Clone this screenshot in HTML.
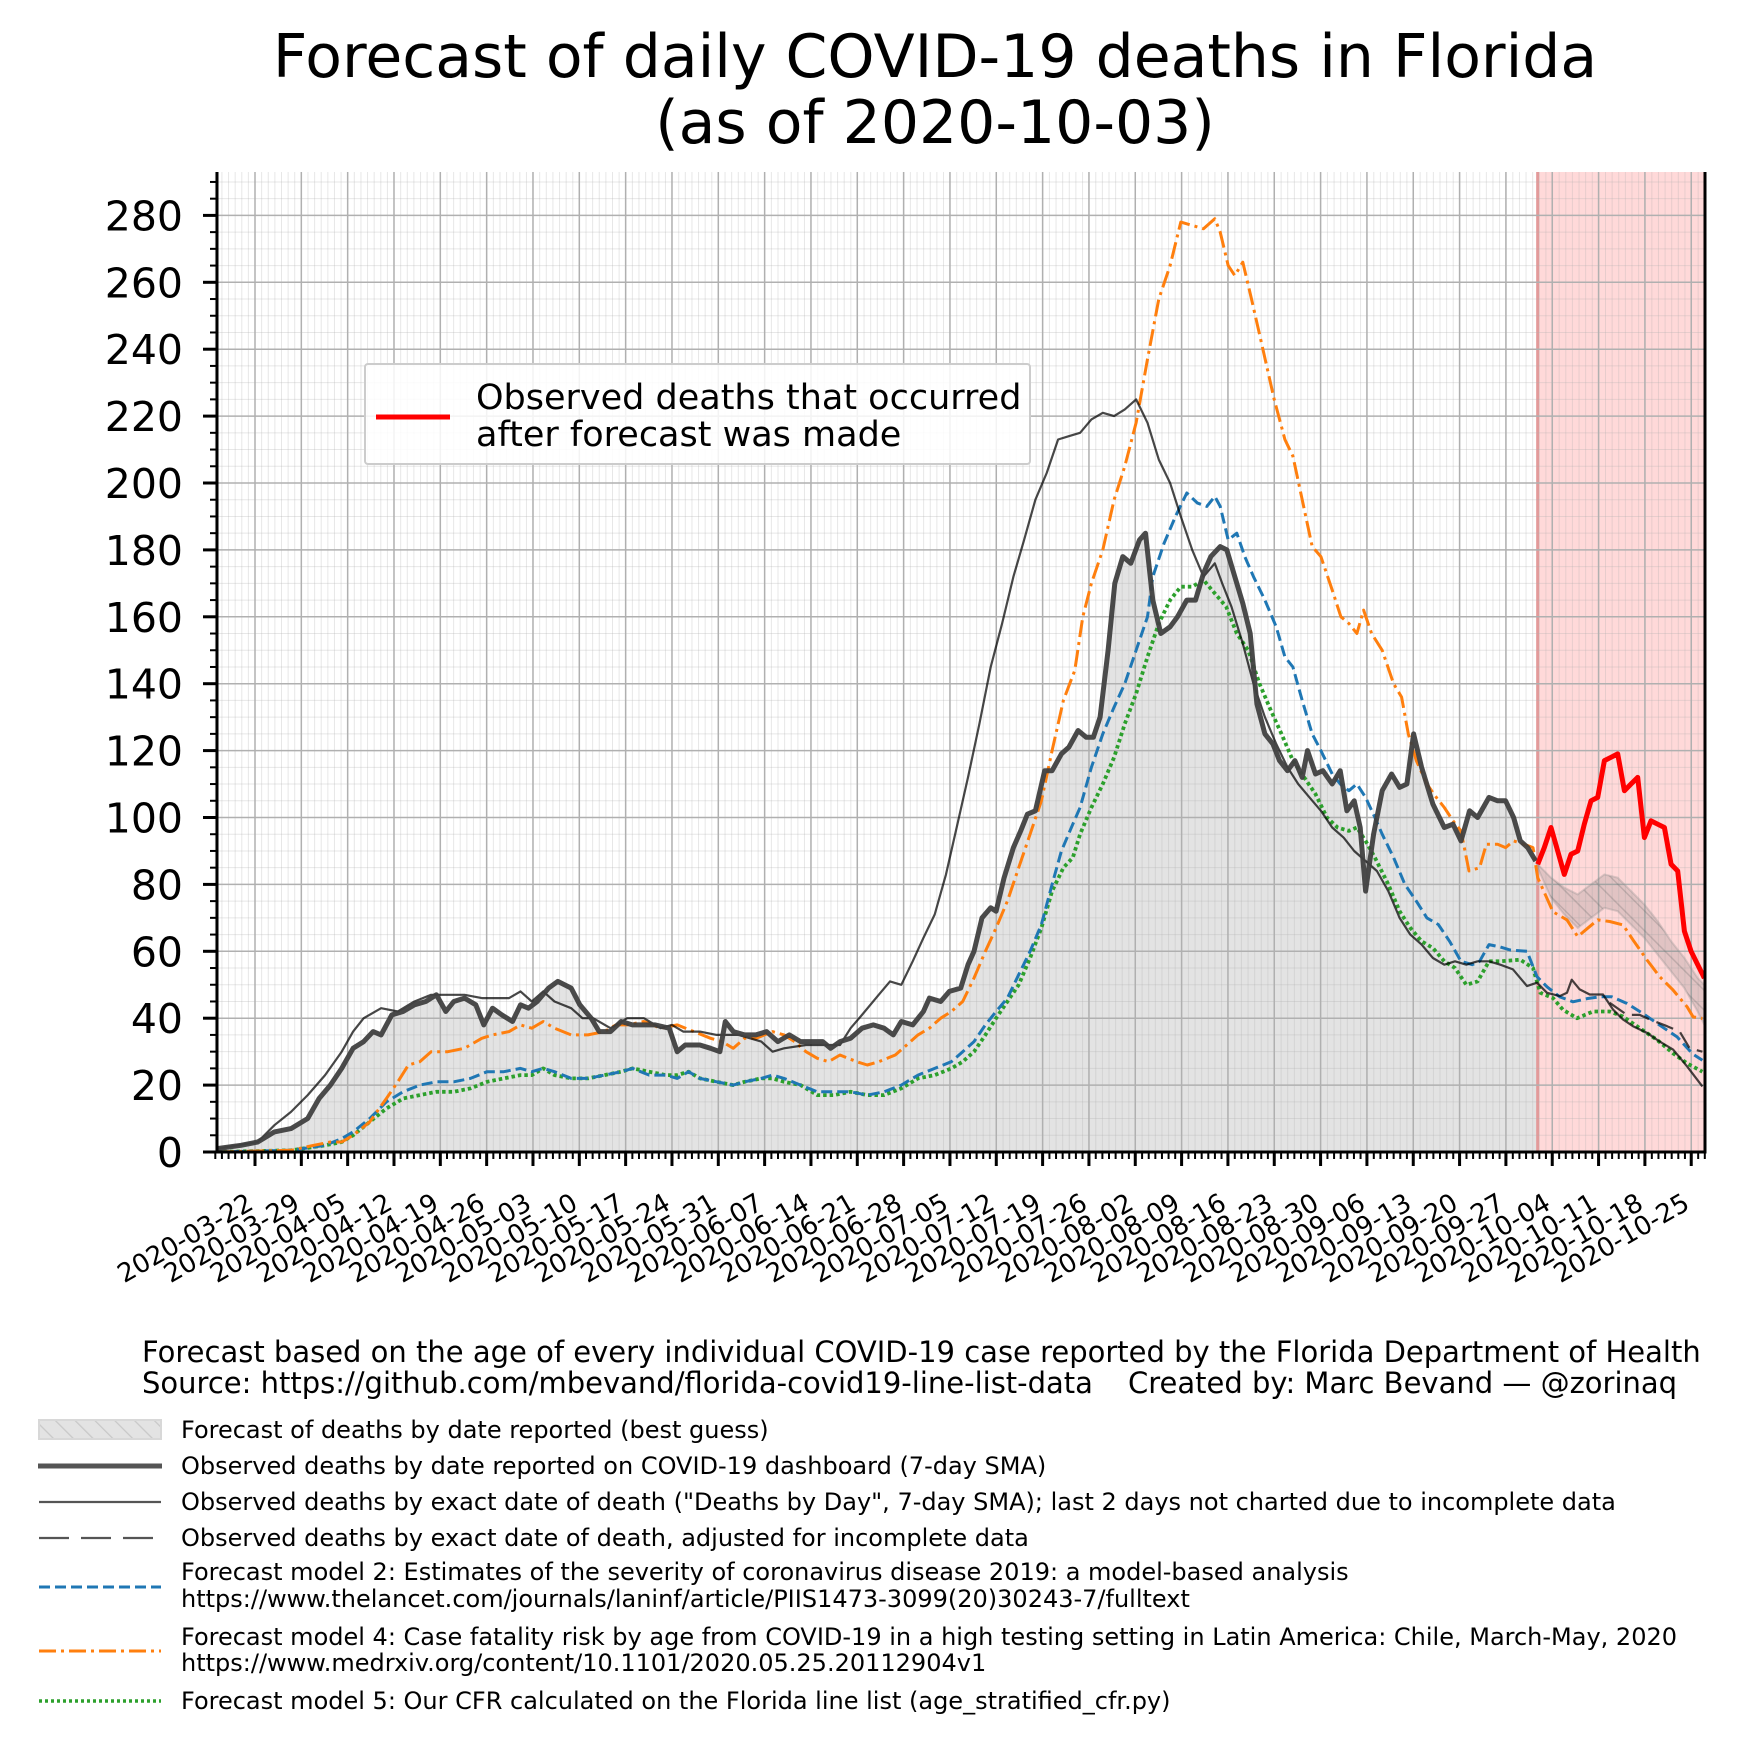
<!DOCTYPE html>
<html><head><meta charset="utf-8"><style>
html,body{margin:0;padding:0;background:#fff;}
svg{display:block;font-family:"DejaVu Sans","Liberation Sans",sans-serif;}
</style></head><body>
<svg id="chart" xmlns="http://www.w3.org/2000/svg" width="1737" height="1756" viewBox="0 0 1737 1756">
<defs>
<pattern id="hatch" patternUnits="userSpaceOnUse" width="14" height="14" patternTransform="rotate(-45)">
<rect width="14" height="14" fill="rgba(120,120,120,0.22)"/>
<line x1="0" y1="0" x2="0" y2="14" stroke="rgba(100,100,100,0.28)" stroke-width="3"/>
</pattern>
<pattern id="hatchL" patternUnits="userSpaceOnUse" width="14" height="14" patternTransform="rotate(-45)">
<rect width="14" height="14" fill="#e3e3e3"/>
<line x1="0" y1="0" x2="0" y2="14" stroke="#c8c8c8" stroke-width="2.5"/>
</pattern>
<clipPath id="plotclip"><rect x="217" y="172" width="1488" height="980"/></clipPath>
</defs>
<text x="935" y="77" font-size="60" text-anchor="middle">Forecast of daily COVID-19 deaths in Florida</text>
<text x="935" y="143" font-size="60" text-anchor="middle">(as of 2020-10-03)</text>
<g id="fills" clip-path="url(#plotclip)"></g>
<g id="grid"></g>
<g id="series" clip-path="url(#plotclip)"></g>
<g id="axes"></g>
<g>
<rect x="365" y="364" width="665" height="100" fill="rgba(255,255,255,0.85)" stroke="#cccccc" stroke-width="2" rx="3"/>
<line x1="376" y1="417" x2="450" y2="417" stroke="#ff0000" stroke-width="5"/>
<text x="476" y="409" font-size="35">Observed deaths that occurred</text>
<text x="476" y="446" font-size="35">after forecast was made</text>
</g>
<text x="142" y="1362" font-size="29">Forecast based on the age of every individual COVID-19 case reported by the Florida Department of Health</text>
<text x="142" y="1393" font-size="29">Source: https://github.com/mbevand/florida-covid19-line-list-data</text>
<text x="1128" y="1393" font-size="29">Created by: Marc Bevand — @zorinaq</text>
<g font-size="24">
<rect x="39" y="1420" width="122" height="19" fill="url(#hatchL)" stroke="#d8d8d8" stroke-width="2"/>
<text x="181" y="1438">Forecast of deaths by date reported (best guess)</text>
<line x1="38" y1="1466" x2="162" y2="1466" stroke="#555" stroke-width="5"/>
<text x="181" y="1474">Observed deaths by date reported on COVID-19 dashboard (7-day SMA)</text>
<line x1="39" y1="1502" x2="161" y2="1502" stroke="#555" stroke-width="2.2"/>
<text x="181" y="1510">Observed deaths by exact date of death ("Deaths by Day", 7-day SMA); last 2 days not charted due to incomplete data</text>
<line x1="39" y1="1538" x2="161" y2="1538" stroke="#555" stroke-width="2.2" stroke-dasharray="30,12"/>
<text x="181" y="1546">Observed deaths by exact date of death, adjusted for incomplete data</text>
<line x1="39" y1="1587" x2="161" y2="1587" stroke="#1f77b4" stroke-width="3" stroke-dasharray="11,5"/>
<text x="181" y="1580">Forecast model 2: Estimates of the severity of coronavirus disease 2019: a model-based analysis</text>
<text x="181" y="1607">https://www.thelancet.com/journals/laninf/article/PIIS1473-3099(20)30243-7/fulltext</text>
<line x1="39" y1="1651" x2="161" y2="1651" stroke="#ff7f0e" stroke-width="3" stroke-dasharray="17,5,3,5"/>
<text x="181" y="1645">Forecast model 4: Case fatality risk by age from COVID-19 in a high testing setting in Latin America: Chile, March-May, 2020</text>
<text x="181" y="1671">https://www.medrxiv.org/content/10.1101/2020.05.25.20112904v1</text>
<line x1="39" y1="1701" x2="161" y2="1701" stroke="#2ca02c" stroke-width="3.5" stroke-dasharray="3,3"/>
<text x="181" y="1709">Forecast model 5: Our CFR calculated on the Florida line list (age_stratified_cfr.py)</text>
</g>
</svg>
<script>
// ---- data (day index since ~2020-03-17) ----
const xTickLabels = ["2020-03-22","2020-03-29","2020-04-05","2020-04-12","2020-04-19","2020-04-26","2020-05-03","2020-05-10","2020-05-17","2020-05-24","2020-05-31","2020-06-07","2020-06-14","2020-06-21","2020-06-28","2020-07-05","2020-07-12","2020-07-19","2020-07-26","2020-08-02","2020-08-09","2020-08-16","2020-08-23","2020-08-30","2020-09-06","2020-09-13","2020-09-20","2020-09-27","2020-10-04","2020-10-11","2020-10-18","2020-10-25"];
const yTickValues = [0,20,40,60,80,100,120,140,160,180,200,220,240,260,280];
const forecastStartDay = 198;

const thickDays = [0,3.6,6.1,8.6,11.1,13.6,15.3,17,18.7,20.4,22,23.4,24.6,26.2,27.9,29.6,31.3,32.9,34.3,35.5,37.1,38.8,40,41.3,42.7,44.3,45.5,46.7,48,49.7,51.1,53.1,54.4,56.1,57.3,59,60.6,62.3,64,65.7,67.8,69,70.2,72.4,74,75.4,76.2,77.4,79.1,80.8,82.4,84.1,85.8,87.5,89.2,90.8,92,93.4,95,96.7,98.4,100,101.4,102.6,104.3,105.9,106.8,108.5,109.8,111.5,112.6,113.5,114.7,116,116.8,118,119.4,120.5,121.5,122.7,124.1,125.2,126.6,127.7,129.1,130.3,131.4,132.4,133.6,134.6,135.8,137,138.3,139.2,140.3,141.5,142.9,144,145.4,146.7,147.9,149,150.4,151.4,152.6,153.8,154.9,155.9,157.1,158.3,159.3,160.5,161.6,162.7,163.5,164.7,165.8,167.2,168.4,169.4,170.5,171.4,172.2,173.4,174.7,176.1,177.3,178.4,179.4,180.6,182.3,184,185.3,186.5,187.8,189,190.7,192,193.2,194.4,195.4,196.5,197.7];
const thickVals = [1,2,3,6,7,10,16,20,25,31,33,36,35,41,42,44,45,47,42,45,46,44,38,43,41,39,44,43,45,49,51,49,44,40,36,36,39,38,38,38,37,30,32,32,31,30,39,36,35,35,36,33,35,33,33,33,31,33,34,37,38,37,35,39,38,42,46,45,48,49,56,60,70,73,72,82,91,96,101,102,114,114,119,121,126,124,124,130,150,170,178,176,183,185,165,155,157,160,165,165,173,178,181,180,172,164,155,134,125,122,117,114,117,112,120,113,114,110,114,102,105,97,78,95,108,113,109,110,125,115,104,97,98,93,102,100,106,105,105,100,93,91,87];

const thinDays = [0,6.1,8.6,11.1,13.6,16.2,18.7,20.4,22,24.6,27.1,29.6,32.1,34.6,37.1,39.7,41.3,43.8,45.5,47.2,48.9,50.6,53.1,54.8,56.4,59,61.5,64,66.5,68.2,69.9,72.4,74.9,78.2,81.6,83.3,85,88.3,90.8,93.4,95,96.7,99.2,100.9,102.6,104.3,105.9,107.6,109.3,111,112.6,114.3,116,117.7,119.4,121,122.7,124.4,126.1,127.7,129.4,131.1,132.8,134.5,136.1,137.8,139.5,141.2,142.9,144.5,146.2,147.9,149.6,150.7,152.1,153.8,155.4,157.1,158.8,160.5,162.1,163.8,165.5,167.2,168.9,170.5,172.2,173.9,175.6,177.3,178.9,180.6,182.3,184,185.6,187.3,189,190.7,192.4,194.3,196.4,197.9,199.4,201.3,202.4,203.1,204.3,205.8,207.8,209.3,210.8,212.3,214.4,216.3,218.3,220.4,222.7];
const thinVals = [1,3,8,12,17,23,30,36,40,43,42,45,47,47,47,46,46,46,48,45,48,45,43,40,40,37,40,40,37,38,36,36,35,35,33,30,31,32,32,32,37,41,47,51,50,57,64,71,83,98,112,128,145,158,172,183,195,203,213,214,215,219,221,220,222,225,218,207,200,190,180,172,176,170,163,152,140,130,122,115,110,106,102,97,94,90,87,84,78,70,65,62,58,56,57,56,57,57,56,54.6,49.6,50.6,47.6,46.6,47.6,51.5,48.6,47.1,47.1,42.6,39.6,37.6,35.6,33,30.6,25.6,19.6];

const adjDays = [208.8,211.4,213.3,214.8,217.4,219.3,220.8,222.7];
const adjVals = [44.6,41,41,39.6,37.6,36,31,30];

const orangeDays = [0,11.1,14.5,17,18.7,20.4,22.9,25.4,27.1,28.7,30.4,32.1,34.6,37.1,39.7,41.3,43.8,45.5,47.2,48.9,50.6,53.1,55.6,58.1,59.8,61.5,64,66.5,69,71.5,74,75.7,77.4,79.1,80.8,83.3,85,86.6,88.3,90,91.7,93.4,95.9,97.5,99.2,101.7,103.4,105.1,106.8,108.5,110.1,111.8,113.5,115.2,116.8,118.5,120.2,121.9,123.6,125.2,126.9,128.6,129.8,131.1,132.8,134.5,136.1,137.8,139.5,141.2,142.9,144.5,146.2,147.9,149.6,150.4,151.6,152.6,153.8,155.1,156.8,158.5,160.1,161.3,162.7,164.2,165.5,167.2,168.5,169.7,170.9,171.9,173.1,174.7,176.4,177.6,178.6,179.8,181.4,182.8,184,185.3,186.5,187.7,189.3,190.3,192,193.2,194.4,196,197.3,198,200.3,202.4,204,205.5,207,208.8,210.8,212.3,214.4,216.3,218.3,220.4,221.3,222.7];
const orangeVals = [0,0.5,2,3,3,5,9,16,21,26,27,30,30,31,34,35,36,38,37,39,37,35,35,36,38,38,39,37,38,36,34,33,31,34,34,36,35,33,30,28,27,29,27,26,27,29,32,35,37,40,42,45,52,60,67,75,85,95,105,120,135,144,160,170,180,195,205,218,237,255,265,278,277,276,279,275,265,262,266,255,240,225,213,208,195,181,178,168,160,158,155,162,155,150,140,136,125,117,110,106,103,99,96,84,85,92,92,91,93,92,91,82,71.8,69.4,64.4,66.9,69.4,68.9,67.9,63.4,57.4,52.4,48.4,43.4,40.4,39.9];

const blueDays = [0,11.1,16.2,18.7,20.4,22.9,25.4,27.9,30.4,32.9,35.5,38,40.5,43,45.5,47.2,48.9,50.6,53.1,55.6,58.1,60.6,62.3,64.8,67.3,69,70.7,72.4,74.9,77.4,79.1,81.6,83.3,85,87.5,90,92.5,95,97.5,100,102.6,105.1,107.6,110.1,111.8,113.5,115.2,116.8,118.5,120.2,121.9,123.6,125.2,126.6,128.3,129.4,131.1,132.8,134.5,136.1,137.8,139.5,140.3,142,143.7,145.4,147,148.4,149.6,150.4,151.6,152.9,154.1,155.4,157.1,158.8,160.1,161.3,162.7,164.2,165.5,167.2,168.4,169.7,170.9,172.2,173.6,174.7,176.4,178.1,179.8,181.4,183.1,184.8,186.5,188.2,189.3,190.7,192.4,193.9,196.4,197.9,199.4,201.3,203.3,205.5,207.3,209.1,211.4,213.8,216.3,218.9,221.2,222.7];
const blueVals = [0,0.5,2,4,6,10,15,18,20,21,21,22,24,24,25,24,25,24,22,22,23,24,25,23,23,22,24,22,21,20,21,22,23,22,20,18,18,18,17,18,20,23,25,27,30,33,38,42,46,53,60,68,80,90,98,103,115,125,133,140,150,160,172,182,190,197,194,193,196,193,183,185,178,172,165,157,148,145,135,125,120,113,110,108,110,106,100,95,88,80,75,70,68,63,57,56,57,62,61.3,60.4,60,52.4,49.4,46.4,44.9,45.9,46.4,46.4,44.4,41.4,37.9,34.4,29.4,27.4];

const greenDays = [0,11.1,16.2,18.7,20.4,22.9,25.4,27.9,30.4,32.9,35.5,38,40.5,43,45.5,47.2,48.9,50.6,53.1,55.6,58.1,60.6,62.3,64.8,67.3,69,70.7,72.4,74.9,77.4,79.1,81.6,83.3,85,87.5,90,92.5,95,97.5,100,102.6,105.1,107.6,110.1,111.8,113.5,115.2,116.8,118.5,120.2,121.9,123.6,125.2,126.9,128.3,129.4,131.1,132.8,134.5,136.1,137.8,139.5,141.2,142.9,144.5,146.2,147.9,149.6,151.3,152.9,154.6,156.3,158,159.6,161.3,163,164.7,166.4,168,169.7,170.9,172.2,173.6,175.6,177.3,178.9,180.6,182.3,184,185.6,187.3,189,190.7,192.4,195.4,197.3,198.4,200.3,201.8,203.9,206.3,208.8,210.8,213.3,215.9,218.3,220.4,222.7];
const greenVals = [0,0.5,2,3,5,9,13,16,17,18,18,19,21,22,23,23,25,23,22,22,23,24,25,24,23,23,24,22,21,20,21,22,22,21,20,17,17,18,17,17,19,22,23,25,27,30,35,40,45,50,58,67,78,85,88,95,103,110,118,128,137,148,158,165,169,169,171,167,163,155,150,140,132,125,117,112,107,100,97,96,97,93,88,80,72,67,63,61,57,55,50,51,57,57,57.5,55,47.6,46,42.5,40,42,42,40.5,37,33.5,29.5,26.5,24];

const redDays = [198,199,200,201,202,203,204,205,206,207,208,209,210,211,212,213,214,215,216,217,218,219,220,221,222,223];
const redVals = [86,91,97,90,83,89,90,98,105,106,117,118,119,108,110,112,94,99,98,97,86,84,66,60,56,52];

const bandDays = [198,200,202,204,206,208,210,212,214,216,218,220,222,223];
const bandUpper = [86,82,79,77,80,83,82,78,74,69,63,58,52,50];
const bandLower = [85,76,71,67,70,73,72,68,64,59,54,49,42,38];

// ---- scales ----
const X0 = 217, PXD = 6.67, Y0 = 1152, PXV = 3.345, XR = 1705, YT = 172;
function xs(d){ return X0 + d*PXD; }
function ys(v){ return Y0 - v*PXV; }
function tickX(k){ return 255 + k*46.33; }
const NS = "http://www.w3.org/2000/svg";
function mk(tag, attrs, parent){ const e = document.createElementNS(NS, tag); for (const k in attrs) e.setAttribute(k, attrs[k]); parent.appendChild(e); return e; }
function pts(ds, vs){ return ds.map((d,i)=> xs(d).toFixed(1)+","+ys(vs[i]).toFixed(1)).join(" "); }

const fills = document.getElementById("fills");
const grid = document.getElementById("grid");
const series = document.getElementById("series");
const axes = document.getElementById("axes");

const gp = mk("polygon", {points: xs(0)+","+Y0+" "+pts(thickDays, thickVals)+" "+xs(forecastStartDay)+","+ys(thickVals[thickVals.length-1])+" "+xs(forecastStartDay)+","+Y0, fill:"#808080", "fill-opacity":"0.22"}, fills);


const rr = mk("rect", {x: xs(forecastStartDay), y: YT, width: XR - xs(forecastStartDay), height: Y0-YT, fill:"#ff0000", "fill-opacity":"0.15"}, fills);


const rl = mk("line", {x1: xs(forecastStartDay), y1: YT, x2: xs(forecastStartDay), y2: Y0, stroke:"#e39a9a", "stroke-width":"3"}, fills);



for (let i = 0; i < 226; i++) {
  const x = 215.3 + i*6.62;
  if (x > XR) break;
  const g = mk("line", {x1:x, y1:YT, x2:x, y2:Y0, stroke:"#b0b0b0", "stroke-opacity":"0.3", "stroke-width":"1"}, grid);
  
  
}
for (let v = 0; v <= 290; v += 5) {
  const g = mk("line", {x1:X0, y1:ys(v), x2:XR, y2:ys(v), stroke:"#b0b0b0", "stroke-opacity": v%20===0 ? "1" : "0.3", "stroke-width": v%20===0 ? "1.5" : "1"}, grid);
  
  
}
xTickLabels.forEach((lab, k) => {
  const g = mk("line", {x1:tickX(k), y1:YT, x2:tickX(k), y2:Y0, stroke:"#b0b0b0", "stroke-width":"1.5"}, grid);
  
  
});

const bandPts = pts(bandDays, bandUpper) + " " + pts(bandDays.slice().reverse(), bandLower.slice().reverse());
const band = mk("polygon", {points: bandPts, fill:"url(#hatch)", stroke:"rgba(140,140,140,0.3)", "stroke-width":"2"}, series);



function line(ds, vs, attrs, name){
  const a = Object.assign({points: pts(ds, vs), fill:"none", "stroke-linejoin":"round"}, attrs);
  const e = mk("polyline", a, series);
  
  
}
line(greenDays, greenVals, {stroke:"#2ca02c", "stroke-width":"3.8", "stroke-dasharray":"3.5,3"}, 'model5-line');
line(blueDays, blueVals, {stroke:"#1f77b4", "stroke-width":"3", "stroke-dasharray":"11,5"}, 'model2-line');
line(orangeDays, orangeVals, {stroke:"#ff7f0e", "stroke-width":"3", "stroke-dasharray":"17,5,3,5"}, 'model4-line');
line(thinDays, thinVals, {stroke:"#000", "stroke-opacity":"0.72", "stroke-width":"2.2"}, 'deaths-by-day-line');
line(adjDays, adjVals, {stroke:"#000", "stroke-opacity":"0.72", "stroke-width":"2.2", "stroke-dasharray":"18,8"}, 'deaths-adjusted-line');
line(thickDays, thickVals, {stroke:"#404040", "stroke-opacity":"0.95", "stroke-width":"5"}, 'reported-deaths-line');
line(redDays, redVals, {stroke:"#ff0000", "stroke-width":"5"}, 'observed-after-forecast-line');

const la = mk("line", {x1:X0, y1:YT, x2:X0, y2:Y0+1.5, stroke:"#000", "stroke-width":"3"}, axes);


const ra = mk("line", {x1:XR, y1:YT, x2:XR, y2:Y0+1.5, stroke:"#000", "stroke-width":"3"}, axes);


const ba = mk("line", {x1:X0-1.5, y1:Y0, x2:XR+1.5, y2:Y0, stroke:"#000", "stroke-width":"3"}, axes);


for (let v = 0; v <= 290; v += 5) {
  const major = v % 20 === 0;
  const t = mk("line", {x1:X0, y1:ys(v), x2:X0-(major?14:7), y2:ys(v), stroke:"#000", "stroke-width": major?"3":"2"}, axes);
  
  
}
yTickValues.forEach(v => {
  const t = mk("text", {x:183, y:ys(v)+15, "font-size":"41", "text-anchor":"end"}, axes);
  t.textContent = String(v);
  
  
});
for (let i = 0; i < 226; i++) {
  const x = 215.3 + i*6.62;
  if (x > XR) break;
  const t = mk("line", {x1:x, y1:Y0, x2:x, y2:Y0+7, stroke:"#000", "stroke-width":"2"}, axes);
  
  
}
xTickLabels.forEach((lab, k) => {
  const x = tickX(k);
  const t = mk("line", {x1:x, y1:Y0, x2:x, y2:Y0+14, stroke:"#000", "stroke-width":"3"}, axes);
  
  
  const ax = x, ay = 1208;
  const tx = mk("text", {x:ax, y:ay, "font-size":"26", "text-anchor":"end", transform:"rotate(-30 "+ax+" "+ay+")"}, axes);
  tx.textContent = lab;
  
  
});
</script>
</body></html>
